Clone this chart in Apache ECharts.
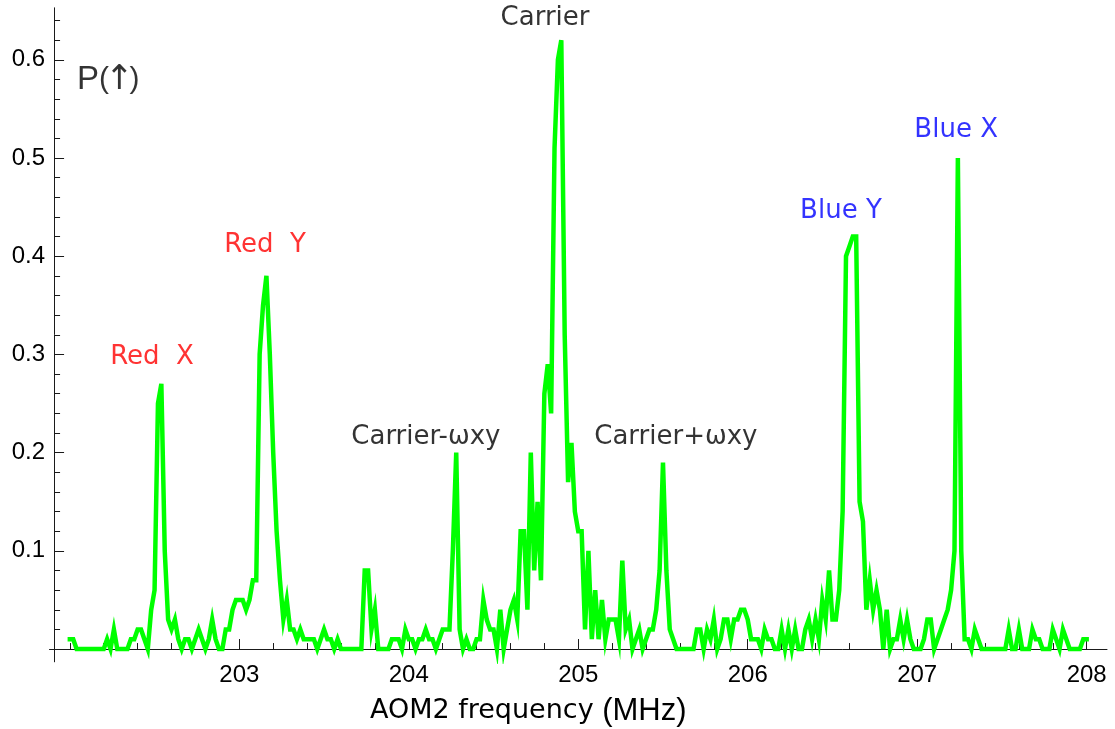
<!DOCTYPE html>
<html>
<head>
<meta charset="utf-8">
<script src="https://cdn.jsdelivr.net/npm/echarts@6/dist/echarts.min.js"></script>
<style>
  html, body { margin: 0; padding: 0; background: #ffffff; }
  #chart { width: 1115px; height: 729px; }
</style>
</head>
<body>
<div id="chart"></div>
<script>
// Frequency scan: P(up) measured every 20 kHz from 202.00 MHz to 208.00 MHz
const scanStart = 202.0;   // MHz
const scanStep = 0.02;     // MHz

// P(up) per 1 MHz block (50 samples each, last block closes at 208.00)
const pUp202 = [
  0.01, 0.01, 0, 0, 0, 0, 0, 0, 0, 0,
  0, 0.01, 0, 0.02, 0, 0, 0, 0, 0.01, 0.01,
  0.02, 0.02, 0.01, 0, 0.04, 0.06, 0.25, 0.27, 0.10, 0.03,
  0.02, 0.03, 0.01, 0, 0.01, 0.01, 0, 0.01, 0.02, 0.01,
  0, 0.01, 0.03, 0.01, 0, 0, 0.02, 0.02, 0.04, 0.05
];
const pUp203 = [
  0.05, 0.05, 0.04, 0.05, 0.07, 0.07, 0.30, 0.35, 0.38, 0.30,
  0.20, 0.12, 0.07, 0.03, 0.05, 0.02, 0.02, 0.01, 0.02, 0.01,
  0.01, 0.01, 0.01, 0, 0.01, 0.02, 0.01, 0.01, 0, 0.01,
  0, 0, 0, 0, 0, 0, 0, 0.08, 0.08, 0.02,
  0.04, 0, 0, 0, 0, 0.01, 0.01, 0.01, 0, 0.02
];
const pUp204 = [
  0.01, 0.01, 0, 0.01, 0.01, 0.02, 0.01, 0.01, 0, 0.01,
  0.02, 0.02, 0.02, 0.10, 0.20, 0.02, 0, 0.01, 0, 0,
  0.01, 0.01, 0.05, 0.03, 0.02, 0.02, 0, 0.04, 0, 0.02,
  0.04, 0.05, 0.03, 0.12, 0.12, 0.04, 0.20, 0.08, 0.15, 0.07,
  0.26, 0.29, 0.24, 0.51, 0.60, 0.62, 0.32, 0.17, 0.21, 0.14
];
const pUp205 = [
  0.12, 0.12, 0.02, 0.10, 0.01, 0.06, 0.01, 0.05, 0.01, 0.03,
  0.03, 0.03, 0.01, 0.09, 0.02, 0.03, 0, 0.01, 0.02, 0,
  0.01, 0.02, 0.02, 0.04, 0.08, 0.19, 0.08, 0.02, 0.01, 0,
  0, 0, 0, 0, 0, 0.02, 0.02, 0, 0.02, 0.01,
  0.03, 0, 0.01, 0.03, 0.03, 0.01, 0.03, 0.03, 0.04, 0.04
];
const pUp206 = [
  0.03, 0.01, 0.01, 0.01, 0, 0.02, 0.01, 0.01, 0, 0,
  0.02, 0, 0.02, 0, 0.02, 0, 0, 0.02, 0.03, 0.01,
  0.03, 0.01, 0.05, 0.03, 0.08, 0.03, 0.03, 0.06, 0.14, 0.40,
  0.41, 0.42, 0.42, 0.15, 0.13, 0.04, 0.07, 0.04, 0.06, 0.04,
  0, 0.04, 0, 0.01, 0.01, 0.03, 0.01, 0.03, 0.01, 0
];
const pUp207 = [
  0, 0, 0.01, 0.03, 0.03, 0, 0.01, 0.02, 0.03, 0.04,
  0.06, 0.10, 0.50, 0.10, 0.01, 0.01, 0, 0.02, 0.01, 0,
  0, 0, 0, 0, 0, 0, 0, 0.02, 0, 0,
  0.02, 0, 0, 0, 0.02, 0.01, 0.01, 0, 0, 0,
  0.02, 0.01, 0, 0.02, 0.01, 0, 0, 0, 0, 0.01,
  0.01
];

// Axis ticks
const xTickLabels = [203, 204, 205, 206, 207, 208];
const yTickLabels = [0.1, 0.2, 0.3, 0.4, 0.5, 0.6];

// Resonance annotations
const peakNames = ['Carrier', 'Red  X', 'Red  Y', 'Carrier-ωxy', 'Carrier+ωxy', 'Blue Y', 'Blue X'];
const peakColors = ['#000000', '#ff0000', '#ff0000', '#000000', '#000000', '#0000ff', '#0000ff'];

// ---- layout ----
const X_MIN = 201.88, X_MAX = 208.12;
const Y_MIN = -0.013, Y_MAX = 0.653;
const Y_AXIS_AT = 201.907;
const GRID = { left: 49.5, right: 8, top: 7.8, bottom: 67.2 };
const plotW = 1115 - GRID.left - GRID.right;
const yAxisShift = -(Y_AXIS_AT - X_MIN) / (X_MAX - X_MIN) * plotW;

// anchor of each annotation text, in data units
const peakAnchors = [
  [204.804, 0.6426], [202.485, 0.2974], [203.152, 0.4114],
  [204.101, 0.2159], [205.576, 0.2159], [206.550, 0.4460], [207.230, 0.5285]
];

const blocks = [pUp202, pUp203, pUp204, pUp205, pUp206, pUp207];
const scanPoints = [];
let idx = 0;
blocks.forEach(function (block) {
  block.forEach(function (p) {
    scanPoints.push([+(scanStart + idx * scanStep).toFixed(2), p]);
    idx++;
  });
});

function minorTicks(from, to, step, majors) {
  const out = [];
  const n = Math.round((to - from) / step);
  for (let i = 0; i <= n; i++) {
    const v = +(from + i * step).toFixed(4);
    if (!majors.some(function (m) { return Math.abs(m - v) < 1e-6; })) out.push(v);
  }
  return out;
}
const xMinor = minorTicks(202.0, 208.0, 0.2, xTickLabels);
const yMinor = minorTicks(0.02, 0.64, 0.02, yTickLabels.concat([0]));

const axisColor = '#1a1a1a';
const tickFont = { fontFamily: 'Liberation Sans', fontSize: 24, color: '#000000' };
const noteFont = 'DejaVu Sans';

const annotationData = peakNames.map(function (name, i) {
  return {
    value: peakAnchors[i],
    label: {
      show: true, position: 'inside', formatter: name,
      color: peakColors[i], fontFamily: noteFont, fontSize: 26
    }
  };
});
annotationData.push({
  value: [202.0425, 0.5794],
  label: {
    show: true, position: 'right', distance: 0,
    formatter: '{p|P}{a|(}{u|↑}{a|)}',
    rich: {
      p: { fontFamily: 'Liberation Sans', fontSize: 33, color: '#000000' },
      a: { fontFamily: 'Liberation Sans', fontSize: 30, color: '#000000' },
      u: { fontFamily: 'DejaVu Sans', fontSize: 34, color: '#000000', padding: [0, -4, 0, -4] }
    }
  }
});

const chart = echarts.init(document.getElementById('chart'), null, { renderer: 'canvas' });
chart.setOption({
  animation: false,
  backgroundColor: '#ffffff',
  grid: {
    left: GRID.left, right: GRID.right, top: GRID.top, bottom: GRID.bottom,
    containLabel: false, outerBoundsMode: 'none'
  },
  xAxis: [
    {
      type: 'value', min: X_MIN, max: X_MAX, position: 'bottom',
      axisLine: { show: true, onZero: true, onZeroAxisIndex: 0, lineStyle: { color: axisColor, width: 1 } },
      axisTick: { show: true, inside: true, length: 10, customValues: xTickLabels, lineStyle: { color: axisColor, width: 1 } },
      axisLabel: Object.assign({ show: true, margin: 2, customValues: xTickLabels, formatter: function (v) { return String(v); } }, tickFont),
      splitLine: { show: false },
      name: '{a|AOM2 frequency }{b|(MHz)}',
      nameLocation: 'middle', nameGap: 34,
      nameTextStyle: {
        padding: [0, 100, 0, 0],
        rich: {
          a: { fontFamily: noteFont, fontSize: 27, color: '#000000' },
          b: { fontFamily: 'Liberation Sans', fontSize: 31, color: '#000000' }
        }
      }
    },
    {
      type: 'value', min: X_MIN, max: X_MAX, position: 'bottom',
      axisLine: { show: false, onZero: true, onZeroAxisIndex: 1 },
      axisTick: { show: true, inside: true, length: 6, customValues: xMinor, lineStyle: { color: axisColor, width: 1 } },
      axisLabel: { show: false },
      splitLine: { show: false }
    }
  ],
  yAxis: [
    {
      type: 'value', min: Y_MIN, max: Y_MAX, position: 'left', offset: yAxisShift,
      axisLine: { show: true, onZero: false, lineStyle: { color: axisColor, width: 1 } },
      axisTick: { show: true, inside: true, length: 10, customValues: yTickLabels, lineStyle: { color: axisColor, width: 1 } },
      axisLabel: Object.assign({ show: true, margin: 9, customValues: yTickLabels, formatter: function (v) { return v.toFixed(1); } }, tickFont),
      splitLine: { show: false }
    },
    {
      type: 'value', min: Y_MIN, max: Y_MAX, position: 'left', offset: yAxisShift,
      axisLine: { show: false, onZero: false },
      axisTick: { show: true, inside: true, length: 6, customValues: yMinor, lineStyle: { color: axisColor, width: 1 } },
      axisLabel: { show: false },
      splitLine: { show: false }
    }
  ],
  series: [
    {
      name: 'P(up)', type: 'line', xAxisIndex: 0, yAxisIndex: 0,
      data: scanPoints, showSymbol: false, symbol: 'none', smooth: false,
      sampling: null, silent: true, z: 3,
      lineStyle: { color: '#00ff00', width: 4.5, join: 'miter', miterLimit: 10, cap: 'square' }
    },
    {
      name: 'labels', type: 'scatter', xAxisIndex: 0, yAxisIndex: 0,
      data: annotationData, symbolSize: 0.01, silent: true, z: 4,
      itemStyle: { color: 'rgba(0,0,0,0)' }
    }
  ]
});
</script>
</body>
</html>
